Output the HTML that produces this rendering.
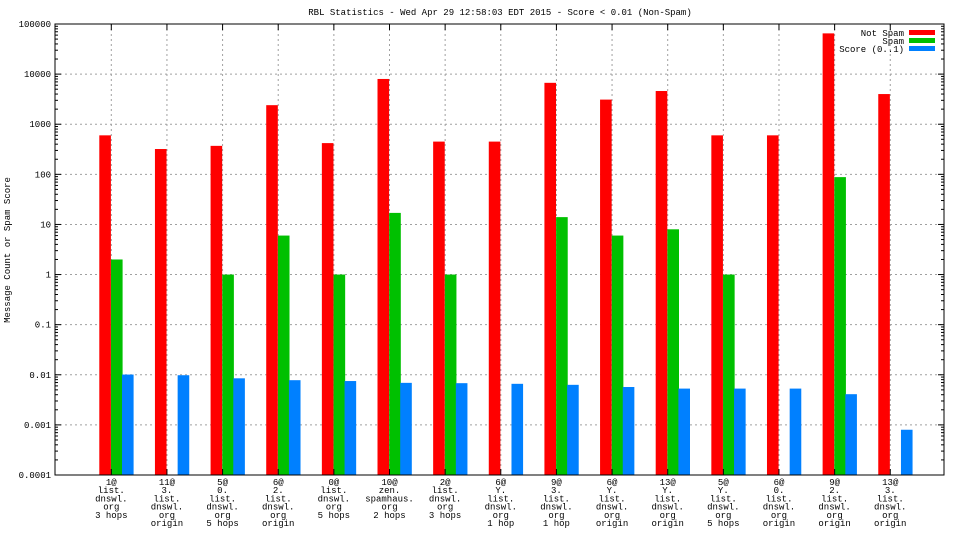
<!DOCTYPE html>
<html><head><meta charset="utf-8"><style>
body{margin:0;background:#fff;}
svg text{font-family:"Liberation Mono",monospace;font-size:9px;fill:#000;}
</style></head><body>
<svg id="chart" width="960" height="540" xmlns="http://www.w3.org/2000/svg">
<text x="500" y="15" text-anchor="middle">RBL Statistics - Wed Apr 29 12:58:03 EDT 2015 - Score &lt; 0.01 (Non-Spam)</text>
<text transform="translate(10,250) rotate(-90)" text-anchor="middle">Message Count or Spam Score</text>
<g id="grid"></g><g id="bars"></g><g id="axes"></g>
<g>
<text x="904" y="36" text-anchor="end">Not Spam</text>
<rect x="909" y="30" width="26" height="5" fill="#ff0000"/>
<text x="904" y="44" text-anchor="end">Spam</text>
<rect x="909" y="38" width="26" height="5" fill="#00c000"/>
<text x="904" y="52" text-anchor="end">Score (0..1)</text>
<rect x="909" y="46" width="26" height="5" fill="#0080ff"/>
</g>
</svg>
<script>
const categories=[["1@","list.","dnswl.","org","3 hops"],["11@","3.","list.","dnswl.","org","origin"],["5@","0.","list.","dnswl.","org","5 hops"],["6@","2.","list.","dnswl.","org","origin"],["0@","list.","dnswl.","org","5 hops"],["10@","zen.","spamhaus.","org","2 hops"],["2@","list.","dnswl.","org","3 hops"],["6@","Y.","list.","dnswl.","org","1 hop"],["9@","3.","list.","dnswl.","org","1 hop"],["6@","Y.","list.","dnswl.","org","origin"],["13@","Y.","list.","dnswl.","org","origin"],["5@","Y.","list.","dnswl.","org","5 hops"],["6@","0.","list.","dnswl.","org","origin"],["9@","2.","list.","dnswl.","org","origin"],["13@","3.","list.","dnswl.","org","origin"]];
const notSpam=[600,320,370,2400,420,8000,450,450,6700,3100,4600,600,600,65000,4000];
const spam=[2,0,1,6,1,17,1,0,14,6,8,1,0,88,0];
const score=[0.0101,0.0098,0.0085,0.0078,0.0075,0.0069,0.0068,0.0066,0.0063,0.0057,0.0053,0.0053,0.0053,0.0041,0.0008];
const yTickLabels=["0.0001","0.001","0.01","0.1","1","10","100","1000","10000","100000"];
const NS="http://www.w3.org/2000/svg";
const L=55,R=944,T=24,B=475;
function yScale(v){return B-(Math.log10(v)+4)/9*(B-T);}
function xCenter(i){return 111.3+i*55.64;}
function mk(tag,attrs,parent){const e=document.createElementNS(NS,tag);for(const k in attrs)e.setAttribute(k,attrs[k]);parent.appendChild(e);return e;}
const grid=document.getElementById('grid'),bars=document.getElementById('bars'),axes=document.getElementById('axes');
yTickLabels.forEach((lab,k)=>{
  const y=yScale(parseFloat(lab));
  if(k>0&&k<yTickLabels.length-1){const g=mk('line',{x1:L,x2:R,y1:y,y2:y,stroke:'#a0a0a0','stroke-dasharray':'2,3'},grid);
  
  }
  const t=mk('text',{x:L-4,y:y+3,'text-anchor':'end'},axes);t.textContent=lab;
  
  
  mk('line',{x1:L,x2:L+6,y1:y,y2:y,stroke:'#000'},axes);
  mk('line',{x1:R,x2:R-6,y1:y,y2:y,stroke:'#000'},axes);
  if(k<yTickLabels.length-1){for(let m=2;m<10;m++){const ym=yScale(parseFloat(lab)*m);
    mk('line',{x1:L,x2:L+3,y1:ym,y2:ym,stroke:'#000'},axes);mk('line',{x1:R,x2:R-3,y1:ym,y2:ym,stroke:'#000'},axes);}}
});
categories.forEach((c,i)=>{
  const x=xCenter(i);
  const g=mk('line',{x1:x,x2:x,y1:T,y2:B,stroke:'#a0a0a0','stroke-dasharray':'2,3'},grid);
  
  
  mk('line',{x1:x,x2:x,y1:T,y2:T+6,stroke:'#000'},axes);
  mk('line',{x1:x,x2:x,y1:B,y2:B-6,stroke:'#000'},axes);
  const t=mk('text',{x:x,y:485,'text-anchor':'middle'},axes);
  
  
  c.forEach((ln,j)=>{const s=mk('tspan',{x:x,dy:j?8.2:0},t);s.textContent=ln;});
  [[notSpam,'#ff0000',-12,'bar-not-spam'],[spam,'#00c000',-0.3,'bar-spam'],[score,'#0080ff',10.7,'bar-score']].forEach(([arr,col,off,name])=>{
    const v=arr[i];if(!(v>0))return;const y=yScale(v);
    const r=mk('rect',{x:x+off,y:y,width:11.6,height:B-y,fill:col},bars);
    
    
  });
});
const f=mk('rect',{x:L,y:T,width:R-L,height:B-T,fill:'none',stroke:'#000','stroke-width':1},axes);


</script>
</body></html>
